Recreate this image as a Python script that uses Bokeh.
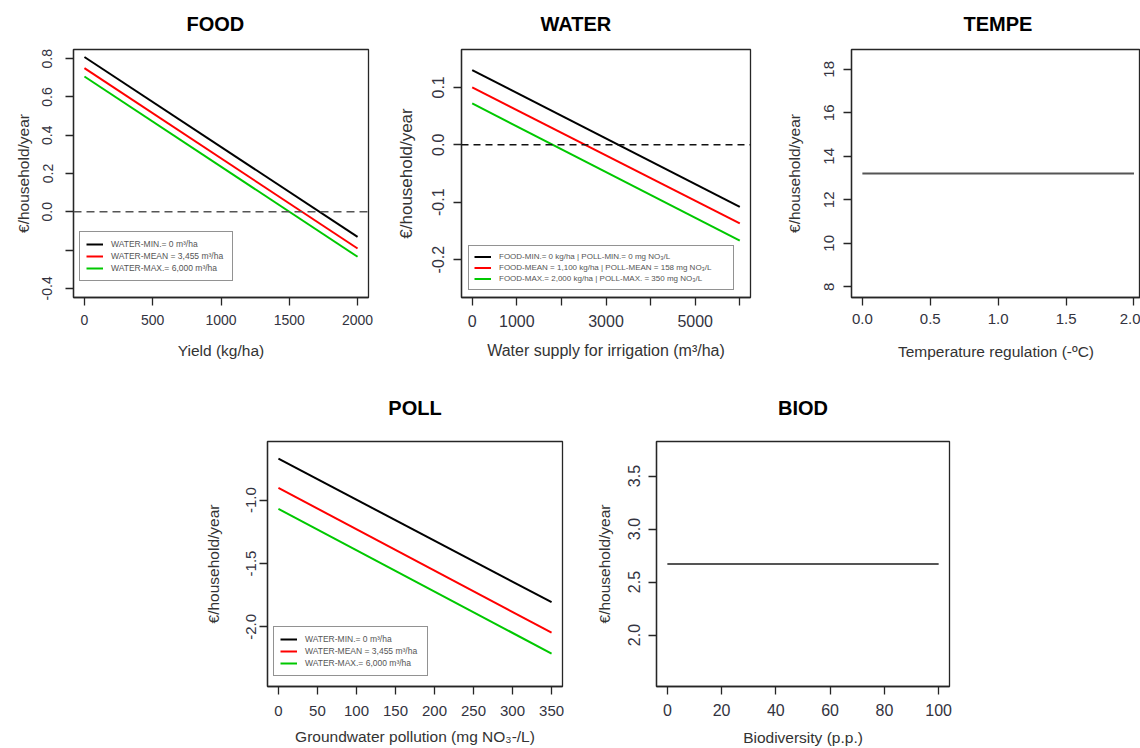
from bokeh.plotting import figure
from bokeh.models import (Legend, LegendItem, Span, FixedTicker, NumeralTickFormatter,
                          Range1d, Spacer)
from bokeh.layouts import row, column
from bokeh.embed import file_html
from bokeh.resources import INLINE

FONT = "Liberation Sans"
INK = "#262626"

# ---------------- data ----------------
# FOOD
food_x = [0, 2000]
food_water_min = [0.809, -0.131]
food_water_mean = [0.751, -0.192]
food_water_max = [0.707, -0.235]
food_xticks = [0, 500, 1000, 1500, 2000]
food_yticks = [-0.4, -0.2, 0.0, 0.2, 0.4, 0.6, 0.8]
food_ylim = (-0.4, 0.8)
food_legend = ["WATER-MIN.= 0 m\u00b3/ha", "WATER-MEAN = 3,455 m\u00b3/ha", "WATER-MAX.= 6,000 m\u00b3/ha"]

# WATER
water_x = [0, 6000]
water_min = [0.130, -0.108]
water_mean = [0.100, -0.137]
water_max = [0.072, -0.167]
water_xticks = [0, 1000, 2000, 3000, 4000, 5000, 6000]
water_xticks_unlabelled = [2000, 4000, 6000]
water_yticks = [-0.2, -0.1, 0.0, 0.1]
water_ylim = (-0.25, 0.15)
water_legend = ["FOOD-MIN.= 0 kg/ha | POLL-MIN.= 0 mg NO\u2083/L",
                "FOOD-MEAN = 1,100 kg/ha | POLL-MEAN = 158 mg NO\u2083/L",
                "FOOD-MAX.= 2,000 kg/ha | POLL-MAX. = 350 mg NO\u2083/L"]

# TEMPE
tempe_x = [0, 2]
tempe_y = [13.21, 13.21]
tempe_xticks = [0.0, 0.5, 1.0, 1.5, 2.0]
tempe_yticks = [8, 10, 12, 14, 16, 18]
tempe_ylim = (7.93, 18.49)

# POLL
poll_x = [0, 350]
poll_water_min = [-0.674, -1.805]
poll_water_mean = [-0.904, -2.045]
poll_water_max = [-1.070, -2.210]
poll_xticks = [0, 50, 100, 150, 200, 250, 300, 350]
poll_yticks = [-2.0, -1.5, -1.0]
poll_ylim = (-2.398, -0.610)
poll_legend = ["WATER-MIN.= 0 m\u00b3/ha", "WATER-MEAN = 3,455 m\u00b3/ha", "WATER-MAX.= 6,000 m\u00b3/ha"]

# BIOD
biod_x = [0, 100]
biod_y = [2.669, 2.669]
biod_xticks = [0, 20, 40, 60, 80, 100]
biod_yticks = [2.0, 2.5, 3.0, 3.5]
biod_ylim = (1.6, 3.74)

YLAB = "\u20ac/household/year"
SERIES_COLORS = ["#000000", "#ff0000", "#00c800"]


def r_range(lo, hi):
    pad = 0.04 * (hi - lo)
    return Range1d(lo - pad, hi + pad)


def panel(title, width, height, bl, br, bt, bb, xr, yr, xlabel, xticks, yticks,
          xfmt, yfmt, tick_fs, lab_fs, xs1, xs2, ys1, ys2, title_align="center",
          title_offset=0, title_standoff=10, title_valign="bottom",
          xover=None, yover=None, ylab_fs=None):
    p = figure(width=width, height=height, x_range=xr, y_range=yr,
               output_backend="svg", toolbar_location=None,
               min_border_left=bl, min_border_right=br, min_border_top=bt,
               min_border_bottom=bb)
    p.title.text = title
    p.title.text_font = FONT
    p.title.text_font_size = "20px"
    p.title.text_font_style = "bold"
    p.title.text_color = "#000000"
    p.title.align = title_align
    p.title.offset = title_offset
    p.title.standoff = title_standoff
    p.title.vertical_align = title_valign
    p.xgrid.visible = False
    p.ygrid.visible = False
    p.outline_line_color = INK
    p.outline_line_width = 1.3
    p.background_fill_color = "white"
    p.border_fill_color = "white"
    for ax in (p.xaxis[0], p.yaxis[0]):
        ax.axis_line_color = INK
        ax.axis_line_width = 1.3
        ax.major_tick_line_color = INK
        ax.major_tick_line_width = 1.3
        ax.major_tick_out = 8
        ax.major_tick_in = 0
        ax.minor_tick_line_color = None
        ax.major_label_text_font = FONT
        ax.major_label_text_font_size = f"{tick_fs}px"
        ax.major_label_text_color = "#333340"
        ax.axis_label_text_font = FONT
        ax.axis_label_text_font_style = "normal"
        ax.axis_label_text_color = "#333333"
    xa, ya = p.xaxis[0], p.yaxis[0]
    xa.ticker = FixedTicker(ticks=xticks)
    ya.ticker = FixedTicker(ticks=yticks)
    xa.formatter = NumeralTickFormatter(format=xfmt)
    ya.formatter = NumeralTickFormatter(format=yfmt)
    if xover:
        xa.major_label_overrides = xover
    if yover:
        ya.major_label_overrides = yover
    ya.major_label_orientation = "parallel"
    xa.axis_label = xlabel
    ya.axis_label = YLAB
    xa.axis_label_text_font_size = f"{lab_fs}px"
    ya.axis_label_text_font_size = f"{ylab_fs or lab_fs}px"
    xa.major_label_standoff = xs1
    xa.axis_label_standoff = xs2
    ya.major_label_standoff = ys1
    ya.axis_label_standoff = ys2
    return p


def add_legend(p, renderers, labels, loc, fs, label_h, pad, label_w):
    items = [LegendItem(label=l, renderers=[r]) for l, r in zip(labels, renderers)]
    lg = Legend(items=items, location=loc, margin=0, padding=pad, spacing=0,
                label_height=label_h, glyph_height=label_h, glyph_width=17,
                label_standoff=8, label_width=label_w,
                label_text_font=FONT, label_text_font_size=f"{fs}px",
                label_text_color="#555555",
                border_line_color=INK, border_line_width=1.5,
                background_fill_color="white", background_fill_alpha=1.0)
    p.add_layout(lg)


TOP = dict(title_standoff=25, title_valign="top")
BOTTOM = dict(title_standoff=45)

# ---------------- FOOD ----------------
p_food = panel("FOOD", 385, 372, 73, 17, 49, 75,
               r_range(food_x[0], food_x[-1]), r_range(*food_ylim),
               "Yield (kg/ha)", food_xticks, food_yticks, "0", "0.0",
               14, 15.5, 9, 14, 13, 8, title_align="left", title_offset=113,
               yover={-0.2: ""}, **TOP)
p_food.add_layout(Span(location=0, dimension="width", line_color="#555555",
                       line_width=1.6, line_dash="8 5"))
rf = [p_food.line(food_x, ys, line_color=c, line_width=2)
      for ys, c in zip([food_water_min, food_water_mean, food_water_max], SERIES_COLORS)]
add_legend(p_food, rf, food_legend, (6, 16), 8.5, 12, 6, 115)

# ---------------- WATER ----------------
p_water = panel("WATER", 393, 372, 76, 28, 49, 75,
                r_range(water_x[0], water_x[-1]), r_range(*water_ylim),
                "Water supply for irrigation (m\u00b3/ha)", water_xticks, water_yticks,
                "0", "0.0", 16, 16, 9, 12, 9, 14, title_align="left", title_offset=79,
                xover={v: "" for v in water_xticks_unlabelled}, ylab_fs=17, **TOP)
p_water.add_layout(Span(location=0, dimension="width", line_color="#111111",
                        line_width=1.4, line_dash="7 5"))
rw = [p_water.line(water_x, ys, line_color=c, line_width=2)
      for ys, c in zip([water_min, water_mean, water_max], SERIES_COLORS)]
add_legend(p_water, rw, water_legend, (7, 7), 8, 11, 5, 229)

# ---------------- TEMPE ----------------
p_tempe = panel("TEMPE", 362, 372, 73, 0, 49, 75,
                Range1d(-0.08, 2.048), r_range(*tempe_ylim),
                "Temperature regulation (-\u00baC)", tempe_xticks, tempe_yticks,
                "0.0", "0", 15, 15.5, 8, 16, 9, 19, title_align="left", title_offset=112,
                **TOP)
p_tempe.line(tempe_x, tempe_y, line_color="#555555", line_width=2)

# ---------------- POLL ----------------
p_poll = panel("POLL", 391, 376, 70, 26, 67, 62,
               r_range(poll_x[0], poll_x[-1]), r_range(*poll_ylim),
               "Groundwater pollution (mg NO\u2083-/L)", poll_xticks, poll_yticks,
               "0", "0.0", 15, 15.5, 11, 9, 3, 22, **BOTTOM)
rp = [p_poll.line(poll_x, ys, line_color=c, line_width=2)
      for ys, c in zip([poll_water_min, poll_water_mean, poll_water_max], SERIES_COLORS)]
add_legend(p_poll, rp, poll_legend, (6, 10), 8.5, 12, 6, 116)

# ---------------- BIOD ----------------
p_biod = panel("BIOD", 412, 376, 68, 51, 67, 62,
               r_range(biod_x[0], biod_x[-1]), r_range(*biod_ylim),
               "Biodiversity (p.p.)", biod_xticks, biod_yticks,
               "0", "0.0", 16, 15.5, 9, 10, 8, 13, **BOTTOM)
p_biod.line(biod_x, biod_y, line_color="#555555", line_width=2)

layout = column(row(p_food, p_water, p_tempe),
                row(Spacer(width=197, height=376), p_poll, p_biod))

open("out.html", "w").write(file_html(layout, INLINE))
